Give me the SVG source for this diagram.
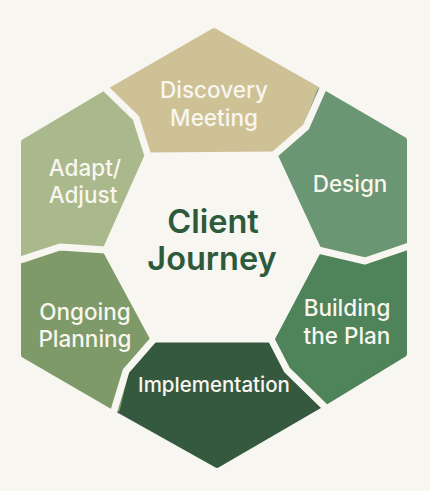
<svg xmlns="http://www.w3.org/2000/svg" width="430" height="491" viewBox="0 0 430 491">
<style>
.seg{stroke-width:6;stroke-linejoin:round}
.sep{fill:none;stroke:#F8F6F1;stroke-width:7;stroke-linejoin:round;stroke-linecap:round}
.lbl{font-family:Inter,"Liberation Sans",sans-serif;font-size:22.5px;font-weight:500;fill:#F8F6EF;text-anchor:middle}
.sm{font-size:20.5px}
.ttl{font-family:Inter,"Liberation Sans",sans-serif;font-size:32.5px;font-weight:600;fill:#2E5A3C;text-anchor:middle}
</style>
<rect width="430" height="491" fill="#F8F6F1"/>
<g id="discovery">
<polygon class="seg" fill="#CEC196" stroke="#CEC196" points="214,31 320,91 306,127 274,155 148,156 136,118 108,92"/>
<text class="lbl" x="214" y="98">Discovery</text>
<text class="lbl" x="214" y="126">Meeting</text>
</g>
<g id="design">
<polygon class="seg" fill="#6B9673" stroke="#6B9673" points="320,91 404,140 404,247 365,261 318,250 274,155 306,127"/>
<text class="lbl" x="350" y="192">Design</text>
</g>
<g id="building">
<polygon class="seg" fill="#4F835A" stroke="#4F835A" points="404,247 404,354 322,404 287,370 271,339 318,250 365,261"/>
<text class="lbl" x="347" y="316">Building</text>
<text class="lbl" x="347" y="344">the Plan</text>
</g>
<g id="implementation">
<polygon class="seg" fill="#35593F" stroke="#35593F" points="322,404 217,465 117,409 126,371 154,339 271,339 287,370"/>
<text class="lbl sm" x="214" y="392">Implementation</text>
</g>
<g id="ongoing">
<polygon class="seg" fill="#7E9A68" stroke="#7E9A68" points="117,409 24,355 24,260 60,247 106,250 154,339 126,371"/>
<text class="lbl" x="85" y="320">Ongoing</text>
<text class="lbl" x="85" y="347">Planning</text>
</g>
<g id="adapt">
<polygon class="seg" fill="#AAB98B" stroke="#AAB98B" points="24,260 24,142 108,92 136,118 148,156 106,250 60,247"/>
<text class="lbl" x="85" y="176">Adapt/</text>
<text class="lbl" x="83" y="203">Adjust</text>
</g>
<g id="separators">
<polyline class="sep" points="325,84 306,127 274,155"/>
<polyline class="sep" points="412,245 365,261 318,250"/>
<polyline class="sep" points="327,409 287,370 271,339"/>
<polyline class="sep" points="113,414 126,371 154,339"/>
<polyline class="sep" points="17,261 60,247 106,250"/>
<polyline class="sep" points="103,86 136,118 148,156"/>
</g>
<g id="center">
<polygon fill="#F8F6F1" stroke="#F8F6F1" stroke-width="7" stroke-linejoin="round" points="148,156 274,155 318,250 271,339 154,339 106,250"/>
<text class="ttl" x="213" y="233">Client</text>
<text class="ttl" x="212" y="270">Journey</text>
</g>
</svg>
